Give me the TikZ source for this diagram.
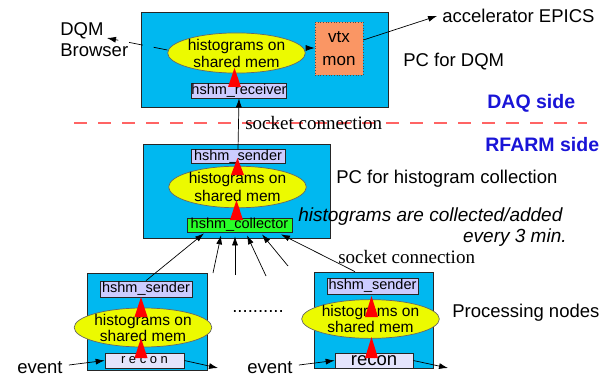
\documentclass[tikz,border=0pt]{standalone}
\usepackage{fontspec}
\setmainfont{Liberation Sans}
\newfontfamily\timesfont{Liberation Serif}
\usetikzlibrary{shapes.geometric, arrows.meta}
\definecolor{pcblue}{RGB}{0,184,240}
\definecolor{shmyellow}{RGB}{236,250,0}
\definecolor{hslav}{RGB}{204,204,255}
\definecolor{reconlav}{RGB}{228,228,252}
\definecolor{collgreen}{RGB}{40,255,40}
\definecolor{vtxsalmon}{RGB}{250,150,100}
\definecolor{sideblue}{RGB}{25,20,215}
\definecolor{sidered}{RGB}{255,100,100}

\begin{document}
\begin{tikzpicture}[
  x=1pt, y=-1pt,
  >={Latex[length=9pt,width=6pt]},
  line width=0.7pt,
  pcbox/.style={draw=black!85, fill=pcblue, inner sep=0pt},
  shmem/.style={draw=black!60, fill=shmyellow, ellipse, inner sep=0pt, align=center,
    font=\fontsize{15.5}{17}\selectfont},
  hsbox/.style={draw=black!85, fill=hslav, inner sep=0pt, font=\fontsize{14.5}{16}\selectfont},
  lbl/.style={inner sep=0pt, anchor=west, font=\fontsize{18.5}{21}\selectfont},
  side/.style={inner sep=0pt, anchor=west, text=sideblue, font=\bfseries\fontsize{19.5}{22}\selectfont},
  sock/.style={inner sep=0pt, anchor=west, font=\timesfont\fontsize{19}{21}\selectfont},
]
\useasboundingbox (0,0) rectangle (613,377);

\node[pcbox, minimum width=247, minimum height=95] (dqmpc) at (264.5,59.5) {};
\node[pcbox, minimum width=187, minimum height=94] (colpc) at (236.5,191) {};
\node[pcbox, minimum width=120, minimum height=97] (lbox) at (147,321.5) {};
\node[pcbox, minimum width=119, minimum height=96] (rbox) at (373.5,320) {};

\node[shmem, minimum width=107, minimum height=40] (shm1) at (236.5,53) {histograms on\\shared mem};
\node[shmem, minimum width=91, minimum height=40, font=\fontsize{15.5}{18}\selectfont] (shm2) at (237.5,187) {histograms on\\shared mem};
\node[shmem, minimum width=88, minimum height=39, font=\fontsize{15.5}{16}\selectfont] (shm3) at (143,327.5) {histograms on\\shared mem};
\node[shmem, minimum width=89, minimum height=32, font=\fontsize{15.5}{16}\selectfont] (shm4) at (370.5,319) {histograms on\\shared mem};

\node[hsbox, minimum width=94, minimum height=15] (recv) at (239,90.5) {hshm\_receiver};
\node[hsbox, minimum width=94, minimum height=13] (msend) at (238,156.5) {hshm\_sender};
\node[hsbox, fill=collgreen, minimum width=105, minimum height=14] (coll) at (239.5,225) {hshm\_collector};
\node[hsbox, minimum width=92, minimum height=16] (lsend) at (146,289) {hshm\_sender};
\node[hsbox, minimum width=91, minimum height=16] (rsend) at (372.5,286) {hshm\_sender};
\node[hsbox, fill=reconlav, minimum width=79, minimum height=15, font=\fontsize{13}{14}\selectfont] (lrecon) at (144.5,360.5) {r e c o n};
\node[hsbox, fill=reconlav, minimum width=78, minimum height=15, font=\fontsize{18.5}{19}\selectfont] (rrecon) at (374,360.5) {recon};

\node[draw=black!70, dotted, fill=vtxsalmon, minimum width=48, minimum height=53, inner sep=0pt,
  align=center, font=\fontsize{17}{23}\selectfont] (vtx) at (339,48.5) {vtx\\mon};

\foreach \x/\yb/\yt in {234.5/87/68, 237.5/175/158, 236.5/220/200, 141/317/297,
  141/358/338, 371.5/317/296, 371.5/358/337}
  \fill[red] (\x-6.5,\yb) -- (\x+6.5,\yb) -- (\x,\yt) -- cycle;

\node[lbl, align=left] (brw) at (60,39.5) {DQM\\Browser};
\node[lbl] (acc) at (442,16) {accelerator EPICS};
\node[lbl] (dqmlbl) at (403,62) {PC for DQM};
\node[side] (daq) at (487,103) {DAQ side};
\node[side] (rfarm) at (485,145) {RFARM side};
\node[lbl] (collbl) at (336,179) {PC for histogram collection};
\node[lbl, font=\itshape\fontsize{19}{21}\selectfont] (note1) at (298,217) {histograms are collected/added};
\node[lbl, anchor=east, font=\itshape\fontsize{19}{21}\selectfont] (note2) at (567,238) {every 3 min.};
\node[lbl] (proc) at (452,313) {Processing nodes};
\node[lbl] (ev1) at (17,368) {event};
\node[lbl] (ev2) at (247,368) {event};
\node[lbl] (dots) at (232,312) {..........};

\draw[draw=sidered, line width=1.2pt, dash pattern=on 13pt off 11pt] (74,123) -- (587,123);
\node[sock] (sock1) at (245,123) {socket connection};
\node[sock] (sock2) at (338,257) {socket connection};

\coordinate (brtip) at (107,38);
\coordinate (f1) at (213,273);
\coordinate (f2) at (235,275);
\coordinate (f3) at (266,276);
\coordinate (f4) at (288,266);
\coordinate (lout) at (218,368);
\coordinate (rout) at (448,368);

\draw[->, dash pattern=on 14pt off 11pt] ([yshift=3pt]shm1.west) -- (brtip);
\draw[->, dash pattern=on 12pt off 11pt] ([yshift=5pt]shm1.east) -- ([yshift=0.5pt]vtx.west);
\draw[->] ([yshift=8.5pt]vtx.east) -- ([xshift=-5pt]acc.west);
\draw[->] (msend.north) -- (recv.south);

\draw[->] (lsend.north) -- ([xshift=-35.5pt,yshift=-1pt]coll.south);
\draw[->] (f1) -- ([xshift=-18.5pt,yshift=-3pt]coll.south);
\draw[->] (f2) -- ([xshift=-4.5pt,yshift=-4pt]coll.south);
\draw[->] (f3) -- ([xshift=7.5pt,yshift=-3pt]coll.south);
\draw[->] (f4) -- ([xshift=22.5pt,yshift=-2pt]coll.south);
\draw[->] ([xshift=-18.5pt]rbox.north) -- ([xshift=41.5pt,yshift=-2pt]coll.south);

\draw[->] ([xshift=6pt,yshift=3pt]ev1.east) -- (lrecon.west);
\draw[->] (lrecon.east) -- (lout);
\draw[->] ([xshift=6pt,yshift=3pt]ev2.east) -- (rrecon.west);
\draw[->] (rrecon.east) -- (rout);
\end{tikzpicture}
\end{document}
